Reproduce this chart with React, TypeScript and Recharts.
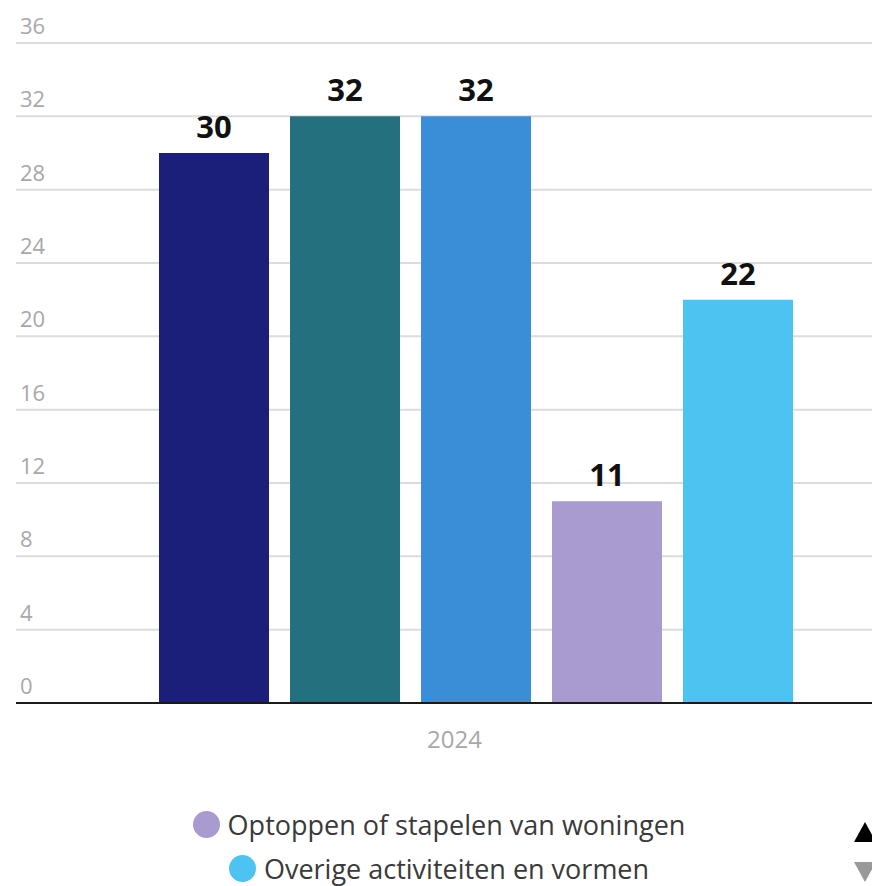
import React from "react";
import {
  BarChart,
  Bar,
  XAxis,
  YAxis,
  CartesianGrid,
  LabelList,
} from "recharts";

// one category, five series
const categories = ["2024"];
const seriesNames = [
  "Transformatie van niet-woongebouwen",
  "Splitsen van woningen",
  "Tijdelijke woningen",
  "Optoppen of stapelen van woningen",
  "Overige activiteiten en vormen",
];
const seriesValues = [30, 32, 32, 11, 22];
const seriesColors = ["#1b1f7a", "#25707f", "#3a8ed8", "#a99ad0", "#4cc3f1"];
const yTicks = [0, 4, 8, 12, 16, 20, 24, 28, 32, 36];
// only the second page of the legend is visible
const legendVisible = [3, 4];

const keys = seriesNames.map((_, i) => `s${i}`);
const chartData = categories.map((name) => {
  const row: Record<string, string | number> = { name };
  keys.forEach((k, i) => {
    row[k] = seriesValues[i];
  });
  return row;
});

const FONT = "'Open Sans', 'Noto Sans', sans-serif";

function YTick(props: any) {
  const { y, payload } = props;
  return (
    <text
      x={20}
      y={y - 9}
      textAnchor="start"
      fill="#a8a8a8"
      fontSize={22}
      fontFamily={FONT}
    >
      {payload.value}
    </text>
  );
}

function XTick(props: any) {
  const { x, y, payload } = props;
  return (
    <text
      x={x - 21}
      y={y + 45}
      textAnchor="middle"
      fill="#a8a8a8"
      fontSize={24}
      fontFamily={FONT}
    >
      {payload.value}
    </text>
  );
}

function ValueLabel(props: any) {
  const { x, y, width, value } = props;
  return (
    <text
      x={x + width / 2}
      y={y - 15}
      textAnchor="middle"
      fill="#111"
      fontSize={31}
      fontWeight={700}
      fontFamily={FONT}
    >
      {value}
    </text>
  );
}

export default function App() {
  return (
    <div
      style={{
        position: "absolute",
        left: 0,
        top: 0,
        width: 872,
        height: 886,
        overflow: "hidden",
        background: "#fff",
        fontFamily: FONT,
      }}
    >
      <BarChart
        width={945}
        height={760}
        data={chartData}
        margin={{ top: 43, right: 10, left: 0, bottom: 0 }}
        barSize={110}
        barGap={21}
      >
        <CartesianGrid
          vertical={false}
          stroke="#dcdcdc"
          strokeWidth={2}
        />
        <YAxis
          domain={[0, 36]}
          ticks={yTicks}
          width={16}
          axisLine={false}
          tickLine={false}
          tickSize={0}
          tickMargin={0}
          tick={<YTick />}
          interval={0}
        />
        <XAxis
          dataKey="name"
          height={57}
          axisLine={{ stroke: "#1a1a1a", strokeWidth: 2 }}
          tickLine={false}
          tickSize={0}
          tickMargin={0}
          tick={<XTick />}
        />
        {keys.map((k, i) => (
          <Bar
            key={k}
            dataKey={k}
            name={seriesNames[i]}
            fill={seriesColors[i]}
            isAnimationActive={false}
          >
            <LabelList dataKey={k} content={<ValueLabel />} />
          </Bar>
        ))}
      </BarChart>

      <div
        style={{
          position: "absolute",
          left: 16,
          top: 806,
          width: 846,
          display: "flex",
          flexDirection: "column",
          alignItems: "center",
          gap: 8,
        }}
      >
        {legendVisible.map((i) => (
          <div
            key={i}
            style={{
              display: "flex",
              alignItems: "center",
              height: 36,
              fontSize: 27,
              color: "#3a3a3a",
              whiteSpace: "nowrap",
            }}
          >
            <span
              style={{
                display: "inline-block",
                width: 27,
                height: 27,
                borderRadius: "50%",
                background: seriesColors[i],
                marginRight: 8,
              }}
            />
            {seriesNames[i]}
          </div>
        ))}
      </div>

      <svg
        width={22}
        height={64}
        style={{ position: "absolute", left: 854, top: 820 }}
      >
        <polygon points="11,2 22,22 0,22" fill="#000" />
        <polygon points="0,42 22,42 11,62" fill="#999" />
      </svg>
    </div>
  );
}
